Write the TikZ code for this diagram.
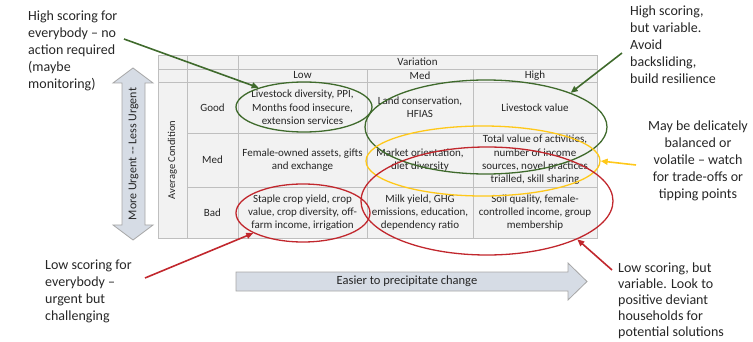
\documentclass[tikz,border=0pt]{standalone}
\usepackage{fontspec}
\setmainfont{Carlito}
\usetikzlibrary{arrows.meta,shapes.geometric}
\definecolor{gridline}{HTML}{BFBFBF}
\definecolor{cellfill}{HTML}{F2F2F2}
\definecolor{arrfill}{HTML}{D6DCE5}
\definecolor{arrdraw}{HTML}{A6A6A6}
\definecolor{dgreen}{HTML}{3F6A2C}
\definecolor{dred}{HTML}{C1272D}
\definecolor{dyellow}{HTML}{FFC819}
\definecolor{ink}{HTML}{262626}
\newcommand\tabcell[6]{\node[cellbox,minimum width={(#4-#2)*1pt},minimum height={(#5-#3)*1pt}] (#1) at ({(#2+#4)/2},{(#3+#5)/2}) {#6};}
\begin{document}
\begin{tikzpicture}[x=1pt,y=-1pt,
  cellbox/.style={draw=gridline,fill=cellfill,line width=0.6pt,inner sep=0pt,align=center,text=ink,font=\fontsize{11}{13.3}\selectfont},
  oval/.style={ellipse,draw,line width=1.3pt,inner sep=0pt},
  callout/.style={inner sep=0pt,text=ink,font=\fontsize{14}{17}\selectfont},
  pointer/.style={line width=1.6pt,-{Triangle[length=7pt,width=6pt]}},
  bigarrow/.style={fill=arrfill,draw=arrdraw,line width=0.8pt},
  arrtext/.style={inner sep=0pt,text=ink,font=\fontsize{12.5}{15}\selectfont}
]
\useasboundingbox (0,0) rectangle (753,342);

% table
\tabcell{c00}{158}{55}{187}{69}{}
\tabcell{c01}{187}{55}{238}{69}{}
\tabcell{c10}{158}{69}{187}{82}{}
\tabcell{c11}{187}{69}{238}{82}{}
\tabcell{var}{238}{55}{597}{69}{Variation}
\tabcell{hlow}{238}{69}{367}{82}{Low}
\tabcell{hmed}{367}{69}{473}{82}{Med}
\tabcell{hhigh}{473}{69}{597}{82}{High}
\tabcell{avg}{158}{82}{187}{238}{}
\node[rotate=90,inner sep=0pt,text=ink,font=\fontsize{10.5}{12}\selectfont] (avgtxt) at (avg) {Average Condition};
\tabcell{rgood}{187}{82}{238}{133}{Good}
\tabcell{rmed}{187}{133}{238}{187}{Med}
\tabcell{rbad}{187}{187}{238}{238}{Bad}
\tabcell{gl}{238}{82}{367}{133}{Livestock diversity, PPI,\\Months food insecure,\\extension services}
\tabcell{gm}{367}{82}{473}{133}{Land conservation,\\HFIAS}
\tabcell{gh}{473}{82}{597}{133}{Livestock value}
\tabcell{ml}{238}{133}{367}{187}{Female-owned assets, gifts\\and exchange}
\tabcell{mm}{367}{133}{473}{187}{Market orientation,\\diet diversity}
\tabcell{mh}{473}{133}{597}{187}{Total value of activities,\\number of income\\sources, novel practices\\trialled, skill sharing}
\tabcell{bl}{238}{187}{367}{238}{Staple crop yield, crop\\value, crop diversity, off-\\farm income, irrigation}
\tabcell{bm}{367}{187}{473}{238}{Milk yield, GHG\\emissions, education,\\dependency ratio}
\tabcell{bh}{473}{187}{597}{238}{Soil quality, female-\\controlled income, group\\membership}

% ellipses
\node[oval,draw=dgreen,minimum width=136pt,minimum height=50pt] (e1) at (304,107) {};
\node[oval,draw=dgreen,minimum width=242pt,minimum height=94pt] (e2) at (486,127) {};
\node[oval,draw=dyellow,minimum width=234pt,minimum height=70pt] (e3) at (483,161) {};
\node[oval,draw=dred,minimum width=252pt,minimum height=108pt] (e4) at (487,201) {};
\node[oval,draw=dred,minimum width=134pt,minimum height=58pt] (e5) at (303,213) {};

% big arrows
\draw[bigarrow] (133,68) -- (153,83) -- (145,83) -- (145,225) -- (153,225) -- (133,240)
  -- (113,225) -- (122,225) -- (122,83) -- (113,83) -- cycle;
\node[arrtext,rotate=90,font=\fontsize{12}{14}\selectfont] (vtxt) at (133.5,154) {More Urgent -{}- Less Urgent};
\draw[bigarrow] (236,272) -- (568,272) -- (568,263) -- (587,281.5) -- (568,300)
  -- (568,291) -- (236,291) -- cycle;
\node[arrtext] (htxt) at (407,281.5) {Easier to precipitate change};

% callouts
\node[callout,anchor=north west,align=left] (t1) at (28,11) {High scoring for\\everybody – no\\action required\\(maybe\\monitoring)};
\node[callout,anchor=north west,align=left] (t2) at (630,6) {High scoring,\\but variable.\\Avoid\\backsliding,\\build resilience};
\node[callout,anchor=north,align=center] (t3) at (698,121) {May be delicately\\balanced or\\volatile – watch\\for trade-offs or\\tipping points};
\node[callout,anchor=north west,align=left] (t4) at (45,260) {Low scoring for\\everybody –\\urgent but\\challenging};
\node[callout,anchor=north west,align=left,font=\fontsize{14}{16}\selectfont] (t5) at (618,263) {Low scoring, but\\variable. Look to\\positive deviant\\households for\\potential solutions};

% pointers
\coordinate (s1) at (124,39);
\coordinate (s2) at (622,53);
\coordinate (s3) at (636,165);
\coordinate (s4) at (145,278);
\coordinate (s5) at (612,270);
\draw[pointer,dgreen] (s1) -- (e1.157);
\draw[pointer,dgreen] (s2) -- (e2.22);
\draw[pointer,dyellow] (s3) -- (e3.east);
\draw[pointer,dred] (s4) -- (e5.-158);
\draw[pointer,dred] (s5) -- (e4.-23);
\end{tikzpicture}
\end{document}
